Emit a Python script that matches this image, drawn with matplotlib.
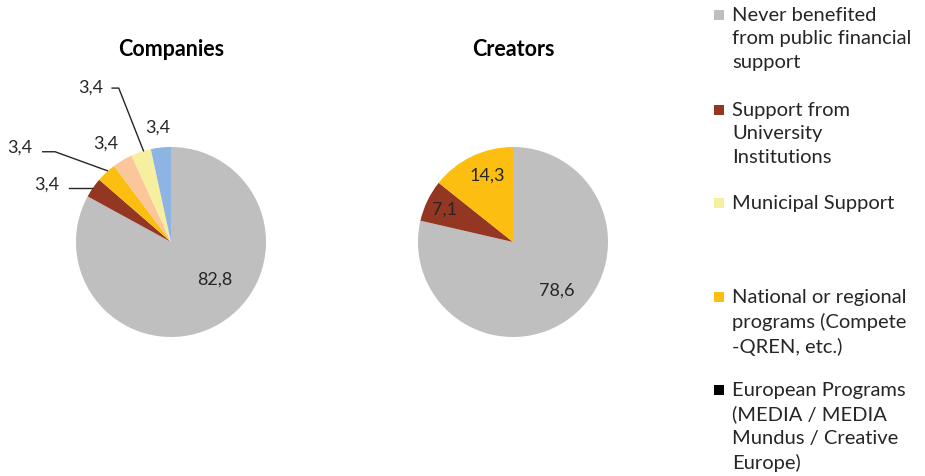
import matplotlib
matplotlib.use("Agg")
import matplotlib.pyplot as plt
from matplotlib.patches import Rectangle

plt.rcParams['font.family'] = ['Lato', 'DejaVu Sans']

# Data
companies = [82.8, 3.4, 3.4, 3.4, 3.4, 3.4]
companies_colors = ['#BFBFBF', '#943722', '#FDBE12', '#FBC79A', '#F5EF9F', '#8DB4E2']
creators = [78.6, 7.1, 14.3]
creators_colors = ['#BFBFBF', '#943722', '#FDBE12']

legend_labels = ['Never benefited\nfrom public financial\nsupport',
                 'Support from\nUniversity\nInstitutions',
                 'Municipal Support',
                 'National or regional\nprograms (Compete\n-QREN, etc.)',
                 'European Programs\n(MEDIA / MEDIA\nMundus / Creative\nEurope)']
legend_colors = ['#BFBFBF', '#943722', '#F5EF9F', '#FDBE12', '#000000']

W, H = 925, 476
fig = plt.figure(figsize=(W / 100, H / 100), dpi=100)

def fmt(v):
    return ('%.1f' % v).replace('.', ',')

def pie_axes(cx, cy, r):
    # cx, cy in pixels from top-left
    return fig.add_axes([(cx - r) / W, (H - cy - r) / H, 2 * r / W, 2 * r / H])

# Companies
ax1 = pie_axes(171, 242, 95)
ax1.pie(companies, colors=companies_colors, startangle=90, counterclock=False,
        radius=1, wedgeprops=dict(linewidth=0))
ax1.set_xlim(-1, 1)
ax1.set_ylim(-1, 1)
ax1.axis('off')
# label positions (data coords)
pos1 = [(0.46, -0.40), (-1.31, 0.60), (-1.59, 0.99), (-0.69, 1.04), (-0.85, 1.63), (-0.14, 1.20)]
for v, (x, y) in zip(companies, pos1):
    ax1.text(x, y, fmt(v), ha='center', va='center', fontsize=13, color='#262626', clip_on=False)
# leader lines
leaders = [([-1.07, -0.83], [0.57, 0.57]),
           ([-1.35, -1.22, -0.67], [0.95, 0.95, 0.75]),
           ([-0.62, -0.55, -0.29], [1.62, 1.62, 0.96])]
for xs, ys in leaders:
    ax1.plot(xs, ys, color='#262626', lw=1, clip_on=False)

# Creators
ax2 = pie_axes(513, 242, 95)
ax2.pie(creators, colors=creators_colors, startangle=90, counterclock=False,
        radius=1, wedgeprops=dict(linewidth=0))
ax2.set_xlim(-1, 1)
ax2.set_ylim(-1, 1)
ax2.axis('off')
pos2 = [(0.46, -0.51), (-0.72, 0.34), (-0.27, 0.70)]
for v, (x, y) in zip(creators, pos2):
    ax2.text(x, y, fmt(v), ha='center', va='center', fontsize=13, color='#262626')

# Titles
fig.text(171 / W, 1 - 50 / H, 'Companies', ha='center', va='center', fontsize=15.5, fontweight='bold')
fig.text(513 / W, 1 - 50 / H, 'Creators', ha='center', va='center', fontsize=15.5, fontweight='bold')

# Legend
tops = [15, 110, 203, 297, 390]
for lab, col, t in zip(legend_labels, legend_colors, tops):
    fig.patches.append(Rectangle((714 / W, 1 - (t + 5) / H), 10 / W, 10 / H,
                                 transform=fig.transFigure, facecolor=col, edgecolor='none'))
    fig.text(732 / W, 1 - (t - 8) / H, lab, ha='left', va='top', fontsize=14.5,
             linespacing=1.45, color='#262626')

fig.savefig('out.png', dpi=100)
